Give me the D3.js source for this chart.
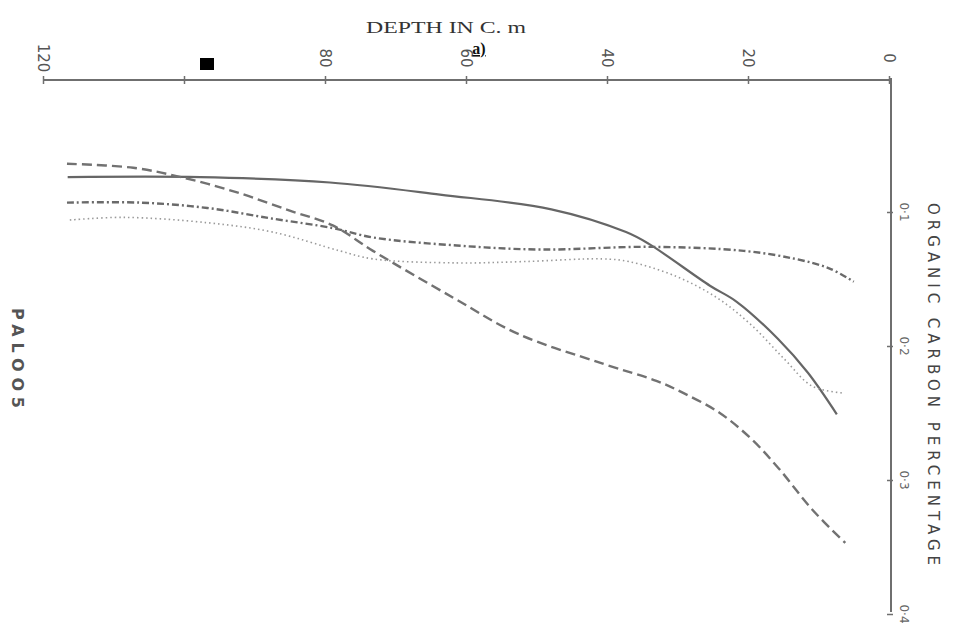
<!DOCTYPE html>
<html>
<head>
<meta charset="utf-8">
<script src="https://cdn.jsdelivr.net/npm/d3@7"></script>
<style>
  body { margin: 0; background: #fff; }
  svg { display: block; }
</style>
</head>
<body>
<svg id="chart" width="958" height="641"></svg>
<script>
// depth (cm) vs organic carbon %, plotted rotated: depth runs along the top, carbon down the right side
var depthTicks = [0, 20, 40, 60, 80, 100, 120];
var depthLabels = ["0", "20", "40", "60", "80", "", "120"];
var carbonTicks = [0.1, 0.2, 0.3, 0.4];
var carbonLabels = ["0·1", "0·2", "0·3", "0·4"];

var solidDepth  = [116.5, 97.7, 79.3, 63.7, 47.9, 37.3, 34.0, 25.4, 21.6, 15.7, 11.5, 7.4];
var solidCarbon = [0.074, 0.074, 0.078, 0.087, 0.098, 0.115, 0.124, 0.155, 0.167, 0.195, 0.220, 0.251];

var dashDepth  = [116.6, 107.2, 99.6, 92.1, 85.0, 78.9, 73.2, 61.8, 52.6, 40.7, 33.0, 29.2, 24.0, 19.6, 15.7, 10.9, 6.2];
var dashCarbon = [0.064, 0.067, 0.075, 0.086, 0.099, 0.110, 0.129, 0.164, 0.191, 0.213, 0.226, 0.235, 0.250, 0.269, 0.291, 0.322, 0.347];

var dashDotDepth  = [116.6, 106.2, 96.7, 87.4, 78.9, 73.2, 61.3, 49.4, 34.0, 20.6, 13.3, 8.5, 5.0];
var dashDotCarbon = [0.093, 0.093, 0.097, 0.105, 0.112, 0.119, 0.125, 0.128, 0.126, 0.129, 0.135, 0.142, 0.152];

var dotDepth  = [116.2, 108.7, 96.7, 87.4, 77.9, 73.2, 61.3, 51.8, 40.7, 36.9, 30.2, 24.4, 19.6, 14.8, 10.9, 6.7];
var dotCarbon = [0.106, 0.104, 0.108, 0.115, 0.129, 0.135, 0.138, 0.137, 0.135, 0.137, 0.148, 0.164, 0.184, 0.210, 0.230, 0.235];

var svg = d3.select("#chart");

var xScale = d3.scaleLinear().domain([0, 120]).range([889, 43]),
    yScale = d3.scaleLinear().domain([0, 0.4]).range([78, 614]);

var inkAxis = "#6f6f6f",
    inkLine = "#666";

// top axis (depth)
var xAxis = d3.axisTop(xScale)
  .tickValues(depthTicks)
  .tickSize(4)
  .tickFormat("");
var gx = svg.append("g")
  .attr("transform", "translate(0,80)")
  .call(xAxis);
gx.select(".domain").attr("stroke", inkAxis).attr("stroke-width", 2).attr("d", "M43,0H889");
gx.selectAll(".tick line").attr("stroke", inkAxis).attr("stroke-width", 1.5).attr("y2", 4).attr("y1", -4);

depthTicks.forEach(function(t, i) {
  if (!depthLabels[i]) return;
  svg.append("text")
    .attr("transform", "translate(" + xScale(t) + ",58) rotate(90)")
    .attr("text-anchor", "middle")
    .attr("dy", "0.35em")
    .style("font-family", "DejaVu Sans, sans-serif")
    .style("font-size", "15px")
    .style("fill", "#555")
    .text(depthLabels[i]);
});

// right axis (carbon)
var yAxis = d3.axisRight(yScale)
  .tickValues(carbonTicks)
  .tickSize(4)
  .tickFormat("");
var gy = svg.append("g")
  .attr("transform", "translate(891,0)")
  .call(yAxis);
gy.select(".domain").attr("stroke", inkAxis).attr("stroke-width", 2).attr("d", "M0,78V612");
gy.selectAll(".tick line").attr("stroke", inkAxis).attr("stroke-width", 1.5).attr("x1", -4).attr("x2", 2);

carbonTicks.forEach(function(t, i) {
  svg.append("text")
    .attr("transform", "translate(904," + yScale(t) + ") rotate(90)")
    .attr("text-anchor", "middle")
    .attr("dy", "0.35em")
    .style("font-family", "DejaVu Sans, sans-serif")
    .style("font-size", "12px")
    .style("fill", "#666")
    .text(carbonLabels[i]);
});

// titles
svg.append("text")
  .attr("x", 446).attr("y", 33)
  .attr("text-anchor", "middle")
  .attr("textLength", 160)
  .attr("lengthAdjust", "spacingAndGlyphs")
  .style("font-family", "Liberation Serif, serif")
  .style("font-size", "17px")
  .style("fill", "#333")
  .text("DEPTH IN C. m");

svg.append("text")
  .attr("x", 479).attr("y", 54)
  .attr("text-anchor", "middle")
  .style("font-family", "Liberation Serif, serif")
  .style("font-weight", "bold")
  .style("font-size", "16px")
  .style("text-decoration", "underline")
  .style("fill", "#111")
  .text("a)");

svg.append("text")
  .attr("transform", "translate(933,384) rotate(90)")
  .attr("text-anchor", "middle")
  .attr("dy", "0.35em")
  .attr("textLength", 362)
  .attr("lengthAdjust", "spacing")
  .style("font-family", "DejaVu Sans, sans-serif")
  .style("font-size", "15px")
  .style("fill", "#444")
  .text("ORGANIC CARBON PERCENTAGE");

svg.append("text")
  .attr("transform", "translate(18,358) rotate(90)")
  .attr("text-anchor", "middle")
  .attr("dy", "0.35em")
  .attr("textLength", 100)
  .attr("lengthAdjust", "spacing")
  .style("font-family", "DejaVu Sans, sans-serif")
  .style("font-weight", "bold")
  .style("font-size", "16px")
  .style("fill", "#555")
  .text("PALOO5");

svg.append("rect")
  .attr("x", 200).attr("y", 58)
  .attr("width", 14).attr("height", 12)
  .attr("fill", "#000");

// curves
var series = [
  { d: solidDepth,   c: solidCarbon,   dash: null,      w: 2.2, col: inkLine },
  { d: dashDepth,    c: dashCarbon,    dash: "10,5",    w: 2.4, col: "#727272" },
  { d: dashDotDepth, c: dashDotCarbon, dash: "7,3,2,3", w: 2.4, col: "#6a6a6a" },
  { d: dotDepth,     c: dotCarbon,     dash: "1.5,3",   w: 1.6, col: "#9a9a9a" }
];

var line = d3.line()
  .x(function(p) { return xScale(p[0]); })
  .y(function(p) { return yScale(p[1]); })
  .curve(d3.curveCatmullRom.alpha(0.5));

series.forEach(function(s) {
  var pts = s.d.map(function(v, i) { return [v, s.c[i]]; });
  svg.append("path")
    .datum(pts)
    .attr("fill", "none")
    .attr("stroke", s.col)
    .attr("stroke-width", s.w)
    .attr("stroke-dasharray", s.dash)
    .attr("d", line);
});
</script>
</body>
</html>
